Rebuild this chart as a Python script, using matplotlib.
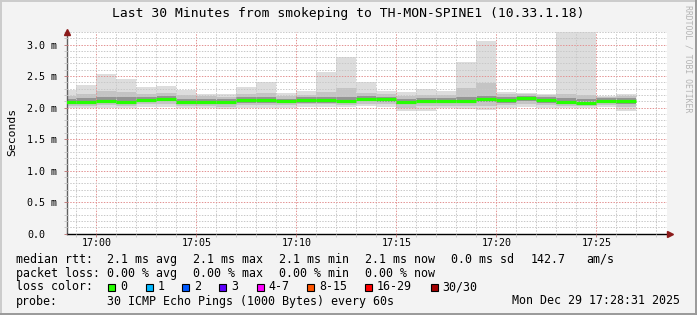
import numpy as np
import pandas as pd
import matplotlib
matplotlib.use('Agg')
import matplotlib.pyplot as plt
import matplotlib.dates as mdates
from matplotlib.ticker import MultipleLocator
from matplotlib.patches import Rectangle
from matplotlib.lines import Line2D

W, H = 697, 315
MONO = 'DejaVu Sans Mono'

# one smoke column per 60 s step, timestamp = end of the step (ms)
ends = pd.date_range('2025-12-29 16:59', '2025-12-29 17:27', freq='1min')
rtt_max = [2.28, 2.36, 2.54, 2.46, 2.32, 2.34, 2.28, 2.22, 2.22, 2.32, 2.40, 2.23, 2.27, 2.56, 2.80,
           2.40, 2.27, 2.24, 2.29, 2.27, 2.72, 3.06, 2.25, 2.23, 2.21, 3.45, 3.45, 2.18, 2.22]
rtt_p90 = [2.19, 2.22, 2.27, 2.25, 2.22, 2.23, 2.20, 2.18, 2.17, 2.22, 2.23, 2.18, 2.20, 2.24, 2.31,
           2.23, 2.21, 2.19, 2.20, 2.20, 2.31, 2.39, 2.21, 2.21, 2.20, 2.21, 2.20, 2.17, 2.19]
rtt_p75 = [2.14, 2.15, 2.17, 2.16, 2.17, 2.18, 2.14, 2.13, 2.13, 2.16, 2.17, 2.14, 2.16, 2.17, 2.17,
           2.18, 2.17, 2.14, 2.15, 2.15, 2.17, 2.19, 2.16, 2.18, 2.16, 2.15, 2.13, 2.15, 2.15]
rtt_med = [2.09, 2.095, 2.11, 2.095, 2.125, 2.14, 2.095, 2.09, 2.09, 2.12, 2.12, 2.10, 2.115, 2.12, 2.10,
           2.14, 2.13, 2.09, 2.11, 2.11, 2.11, 2.135, 2.12, 2.145, 2.12, 2.09, 2.075, 2.10, 2.10]
rtt_p25 = [2.06, 2.06, 2.07, 2.06, 2.09, 2.10, 2.06, 2.06, 2.05, 2.08, 2.08, 2.07, 2.08, 2.08, 2.07,
           2.10, 2.09, 2.05, 2.07, 2.07, 2.07, 2.09, 2.08, 2.10, 2.08, 2.05, 2.04, 2.07, 2.06]
rtt_p10 = [2.03, 2.03, 2.04, 2.03, 2.05, 2.06, 2.03, 2.03, 2.01, 2.04, 2.04, 2.04, 2.05, 2.05, 2.04,
           2.06, 2.05, 2.00, 2.02, 2.03, 2.03, 2.03, 2.04, 2.06, 2.04, 2.03, 2.02, 2.04, 2.01]
rtt_min = [2.00, 2.00, 2.00, 2.00, 2.01, 2.01, 2.00, 2.00, 1.97, 2.00, 2.00, 2.00, 2.01, 2.01, 2.01,
           2.02, 2.01, 1.94, 1.95, 1.99, 1.98, 1.96, 2.00, 2.01, 2.00, 2.00, 2.00, 2.01, 1.95]

y_ticks = [0.0, 0.5, 1.0, 1.5, 2.0, 2.5, 3.0]
y_labels = ['0.0', '0.5 m', '1.0 m', '1.5 m', '2.0 m', '2.5 m', '3.0 m']

loss_labels = ['0', '1', '2', '3', '4-7', '8-15', '16-29', '30/30']
loss_colors = ['#26ff00', '#00b8ff', '#0059ff', '#5e00ff', '#ff00ff', '#ff5500', '#ff0000', '#a10000']

title = 'Last 30 Minutes from smokeping to TH-MON-SPINE1 (10.33.1.18)'
t_start = pd.Timestamp('2025-12-29 16:58:31')
t_end = pd.Timestamp('2025-12-29 17:28:31')


def fx(x):
    return x / W


def fy(y):
    return 1 - y / H


fig = plt.figure(figsize=(W / 100, H / 100), dpi=100, facecolor='#f3f3f3')
ax = fig.add_axes([fx(66.7), fy(233.7), 600 / W, (233.7 - 31.9) / H])
ax.set_facecolor('white')

x_end = mdates.date2num(ends)
step = 1 / 1440
left = x_end - step
lo = np.array(rtt_min)
hi = np.array(rtt_max)
ax.bar(left, hi - lo, bottom=lo, width=step, align='edge', color='#dddddd', linewidth=0, zorder=1)
ax.bar(left, np.array(rtt_p90) - np.array(rtt_p10), bottom=rtt_p10, width=step, align='edge',
       color='#c4c4c4', linewidth=0, zorder=1.1)
ax.bar(left, np.array(rtt_p75) - np.array(rtt_p25), bottom=rtt_p25, width=step, align='edge',
       color='#949494', linewidth=0, zorder=1.2)
ax.hlines(rtt_med, left, x_end, colors=loss_colors[0], linewidth=2.3, zorder=3)

ax.xaxis_date()
ax.set_xlim(mdates.date2num(t_start), mdates.date2num(t_end))
ax.set_ylim(0, 3.2)
ax.xaxis.set_major_locator(mdates.MinuteLocator(byminute=range(0, 60, 5)))
ax.xaxis.set_minor_locator(mdates.MinuteLocator())
ax.xaxis.set_major_formatter(mdates.DateFormatter('%H:%M'))
ax.set_yticks(y_ticks, y_labels)
ax.yaxis.set_minor_locator(MultipleLocator(0.1))

ax.set_axisbelow(False)
ax.grid(which='minor', color='#c8c8c8', linestyle=(0, (1.4, 1.4)), linewidth=0.72)
ax.grid(which='major', color='#e39393', linestyle=(0, (1.4, 1.4)), linewidth=0.72)

ax.tick_params(which='major', length=2, width=0.72, color='#c08080', labelsize=7.2)
ax.tick_params(which='minor', length=2, width=0.72, color='#c8c8c8')
ax.tick_params(axis='y', which='major', pad=26.4)
ax.tick_params(axis='x', which='major', pad=1.0)
for lab in ax.get_yticklabels():
    lab.set_horizontalalignment('left')
    lab.set_fontfamily(MONO)
for lab in ax.get_xticklabels():
    lab.set_fontfamily(MONO)

for side in ('top', 'right'):
    ax.spines[side].set_visible(False)
ax.spines['left'].set_color('#606060')
ax.spines['bottom'].set_color('#000000')
ax.spines['left'].set_linewidth(1.0)
ax.spines['bottom'].set_linewidth(1.0)
ax.plot([0], [1.0], marker='^', markersize=5, color='#8b1a1a', transform=ax.transAxes,
        clip_on=False, zorder=5)
ax.plot([1.006], [0], marker='>', markersize=5, color='#8b1a1a', transform=ax.transAxes,
        clip_on=False, zorder=5)

fig.text(fx(348.5), fy(13), title, ha='center', va='center', fontsize=9.4, family=MONO, color='#000000')
fig.text(fx(12), fy(132), 'Seconds', rotation=90, ha='center', va='center', fontsize=8.2, family=MONO)
fig.text(fx(688), fy(5), 'RRDTOOL / TOBI OETIKER', rotation=270, ha='center', va='top',
         fontsize=5.9, family=MONO, color='#b4b4b4')

fs = 8.4
rows = [
    (259.3, [(16, 'median rtt:'), (107.3, '2.1 ms avg'), (193.3, '2.1 ms max'), (279.3, '2.1 ms min'),
             (365.3, '2.1 ms now'), (451, '0.0 ms sd'), (530.7, '142.7'), (586, 'am/s')]),
    (273.3, [(16, 'packet loss:'), (107.3, '0.00 % avg'), (193.3, '0.00 % max'), (279.3, '0.00 % min'),
             (365.3, '0.00 % now')]),
    (301, [(16, 'probe:'), (107.3, '30 ICMP Echo Pings (1000 Bytes) every 60s')]),
]
for y, items in rows:
    for x, s in items:
        fig.text(fx(x), fy(y), s, ha='left', va='center', fontsize=fs, family=MONO)
fig.text(fx(680), fy(301), 'Mon Dec 29 17:28:31 2025', ha='right', va='center', fontsize=fs, family=MONO)

fig.text(fx(16), fy(287), 'loss color:', ha='left', va='center', fontsize=fs, family=MONO)
box_x = [108.3, 145.7, 182.3, 219.3, 256.7, 307.3, 365.3, 430.7]
for bx, lab, col in zip(box_x, loss_labels, loss_colors):
    fig.patches.append(Rectangle((fx(bx), fy(290.7)), 7 / W, 7 / H, transform=fig.transFigure,
                                 facecolor=col, edgecolor='black', linewidth=0.8))
    fig.text(fx(bx + 11.5), fy(287), lab, ha='left', va='center', fontsize=fs, family=MONO)

# frame shading like rrdtool
fig.add_artist(Line2D([0, 1], [fy(1), fy(1)], color='#cbcbcb', linewidth=1.4, transform=fig.transFigure))
fig.add_artist(Line2D([fx(1), fx(1)], [0, 1], color='#cbcbcb', linewidth=1.4, transform=fig.transFigure))
fig.add_artist(Line2D([0, 1], [fy(314), fy(314)], color='#999999', linewidth=1.4, transform=fig.transFigure))
fig.add_artist(Line2D([fx(696), fx(696)], [0, 1], color='#999999', linewidth=1.4, transform=fig.transFigure))

fig.savefig('out.png', dpi=100, facecolor=fig.get_facecolor())
